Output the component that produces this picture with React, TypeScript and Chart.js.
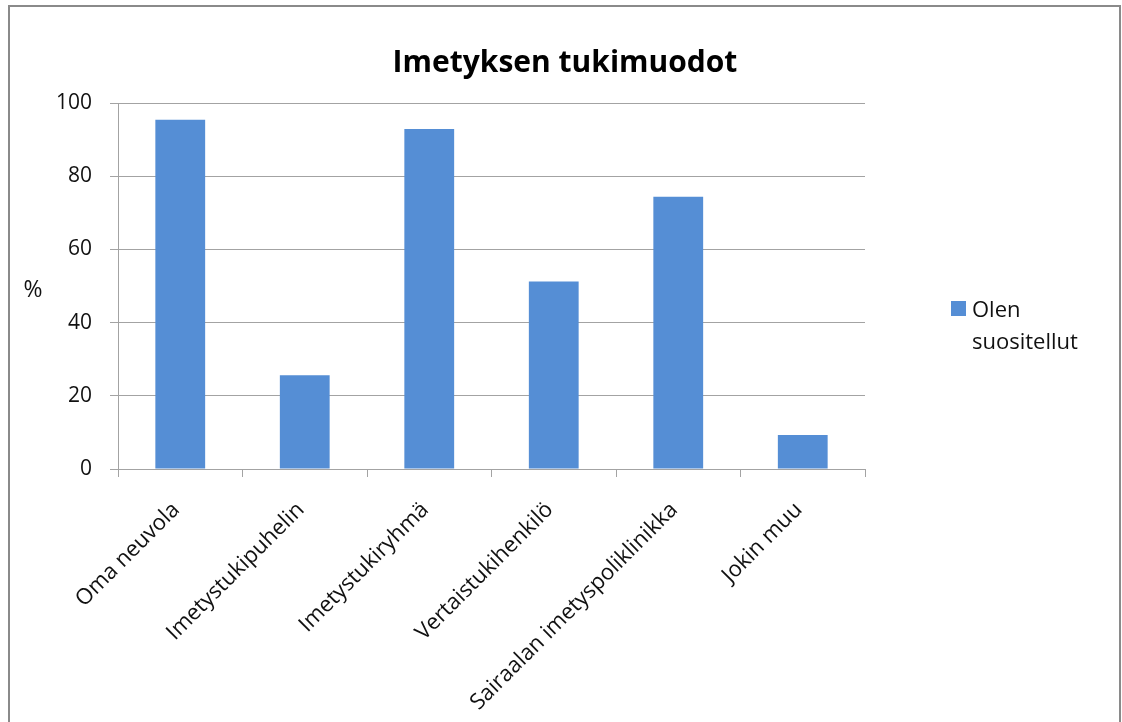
import React, { useEffect, useRef } from "react";
import { Chart, registerables } from "chart.js";

Chart.register(...registerables);

const TITLE = "Imetyksen tukimuodot";
const categories = [
  "Oma neuvola",
  "Imetystukipuhelin",
  "Imetystukiryhmä",
  "Vertaistukihenkilö",
  "Sairaalan imetyspoliklinikka",
  "Jokin muu",
];
const seriesName = ["Olen", "suositellut"];
const seriesValues = [95.4, 25.6, 92.9, 51.2, 74.4, 9.3];
const yTicks = [0, 20, 40, 60, 80, 100];
const yAxisLabel = "%";

const BAR_COLOR = "#558ED5";
const GRID_COLOR = "#a3a3a3";
const FONT = "'Open Sans'";

const overlayPlugin = {
  id: "overlay",
  afterLayout(chart: any) {
    if (chart.titleBlock) {
      chart.titleBlock.left = 8;
      chart.titleBlock.right = 1122;
    }
  },
  afterDraw(chart: any) {
    const { ctx, chartArea } = chart;
    ctx.save();
    // y axis label
    ctx.fillStyle = "#111";
    ctx.font = `23px ${FONT}`;
    ctx.textAlign = "center";
    ctx.textBaseline = "middle";
    ctx.fillText(yAxisLabel, 33, (chartArea.top + chartArea.bottom) / 2 + 4);
    // legend
    const lx = chartArea.right + 86;
    const ly = chartArea.top + 198;
    ctx.fillStyle = BAR_COLOR;
    ctx.fillRect(lx, ly, 15, 15);
    ctx.fillStyle = "#111";
    ctx.textAlign = "left";
    ctx.textBaseline = "alphabetic";
    ctx.font = `22px ${FONT}`;
    seriesName.forEach((line, i) => {
      ctx.fillText(line, lx + 21, ly + 16 + i * 32);
    });
    ctx.restore();
  },
};

export default function App() {
  const ref = useRef<HTMLCanvasElement | null>(null);
  useEffect(() => {
    if (!ref.current) return;
    const chart = new Chart(ref.current, {
      type: "bar",
      data: {
        labels: categories,
        datasets: [
          {
            label: seriesName.join(" "),
            data: seriesValues,
            backgroundColor: BAR_COLOR,
            borderWidth: 0,
            barPercentage: 0.4,
            categoryPercentage: 1,
          },
        ],
      },
      options: {
        animation: false,
        responsive: false,
        devicePixelRatio: 1,
        layout: { padding: { left: 0, right: 257, top: 8, bottom: 0 } },
        plugins: {
          legend: { display: false },
          tooltip: { enabled: false },
          title: {
            display: true,
            text: TITLE,
            color: "#000",
            font: { family: FONT, size: 30, weight: "bold" },
            padding: { top: 37, bottom: 22 },
          },
        },
        scales: {
          x: {
            afterFit: (s: any) => {
              s.height = 722 - 469;
            },
            grid: {
              display: true,
              drawOnChartArea: false,
              drawTicks: true,
              tickLength: 8,
              color: GRID_COLOR,
              offset: true,
            },
            border: { display: true, color: GRID_COLOR },
            ticks: {
              autoSkip: false,
              maxRotation: 45,
              minRotation: 45,
              padding: 20,
              labelOffset: -4,
              color: "#111",
              font: { family: FONT, size: 22 },
            },
          },
          y: {
            min: 0,
            max: 100,
            afterFit: (s: any) => {
              s.width = 118;
            },
            afterBuildTicks: (s: any) => {
              s.ticks = yTicks.map((v) => ({ value: v }));
            },
            grid: {
              color: GRID_COLOR,
              drawTicks: true,
              tickLength: 8,
            },
            border: { display: true, color: GRID_COLOR },
            ticks: {
              padding: 18,
              color: "#111",
              font: { family: FONT, size: 21 },
            },
          },
        },
      },
      plugins: [overlayPlugin],
    });
    return () => chart.destroy();
  }, []);

  return (
    <div
      style={{
        position: "fixed",
        left: 0,
        top: 0,
        width: 1122,
        height: 722,
        overflow: "hidden",
        background: "#fff",
      }}
    >
      <div
        style={{
          position: "absolute",
          left: 8,
          top: 5,
          width: 1113,
          height: 760,
          border: "2px solid #8a8a8a",
          boxSizing: "border-box",
        }}
      />
      <canvas
        ref={ref}
        width={1122}
        height={722}
        style={{ position: "absolute", left: 0, top: 0, width: 1122, height: 722 }}
      />
    </div>
  );
}
